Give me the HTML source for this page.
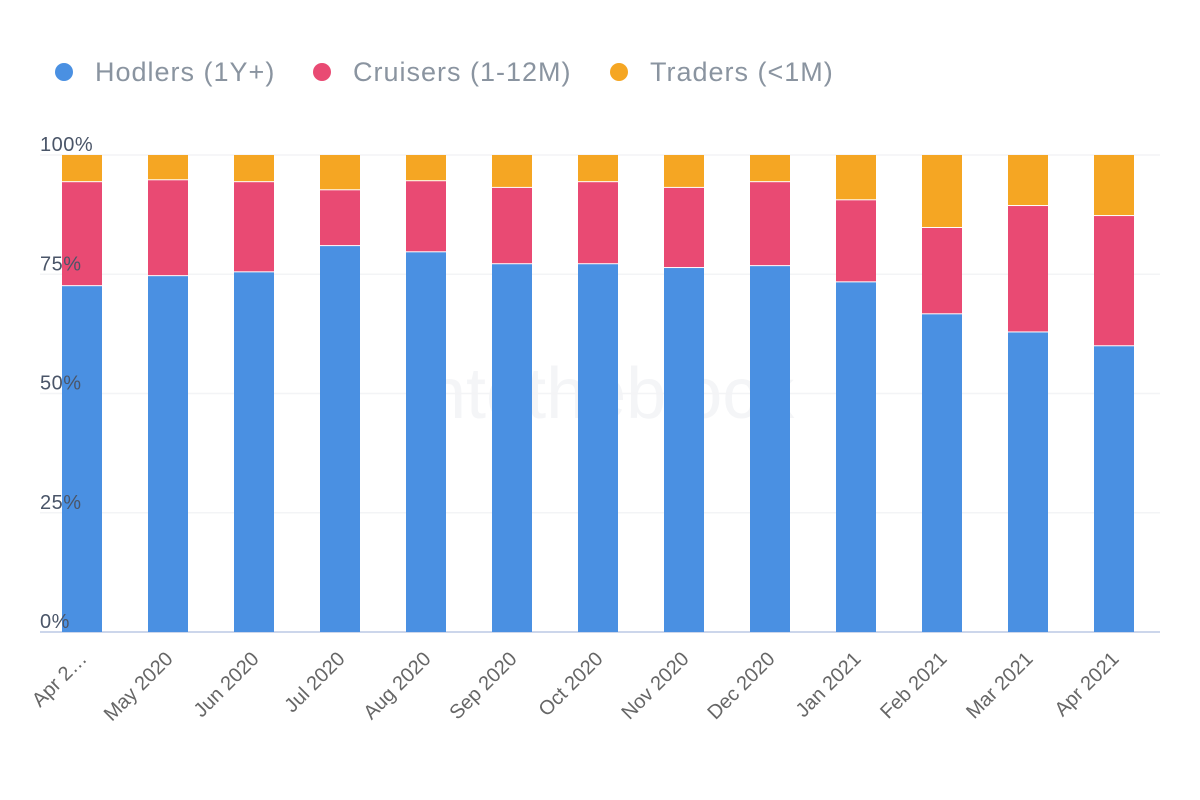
<!DOCTYPE html>
<html><head><meta charset="utf-8"><style>
body{margin:0;background:#fff;}
svg{display:block;font-family:"Liberation Sans",sans-serif;}
</style></head><body>
<svg id="c" width="1200" height="800"></svg>
<script>
const categories=["Apr 2…","May 2020","Jun 2020","Jul 2020","Aug 2020","Sep 2020","Oct 2020","Nov 2020","Dec 2020","Jan 2021","Feb 2021","Mar 2021","Apr 2021"];
const hodlers=[72.5,74.6,75.4,80.9,79.6,77.1,77.1,76.3,76.7,73.3,66.6,62.8,59.9];
const cruisers=[21.8,20.1,18.9,11.7,14.9,16.0,17.2,16.8,17.6,17.2,18.1,26.5,27.3];
const traders=[5.7,5.3,5.7,7.4,5.5,6.9,5.7,6.9,5.7,9.5,15.3,10.7,12.8];
const yTicks=[0,25,50,75,100];
const seriesNames=["Hodlers (1Y+)","Cruisers (1-12M)","Traders (<1M)"];
const colors=["#4a90e2","#e94a73","#f5a623"];

const NS="http://www.w3.org/2000/svg";
const svg=document.getElementById('c');
function el(t,a,p){const e=document.createElementNS(NS,t);for(const k in a)e.setAttribute(k,a[k]);(p||svg).appendChild(e);return e;}
const y0=632,y1=155,x0=40,x1=1160;
const y=v=>y0-(v/100)*(y0-y1);
const step=86,first=82,bw=40;
const xc=i=>first+i*step;

const wm=el('text',{x:410,y:418,'font-size':72,fill:'#f4f5f7'});
wm.textContent='intotheblock';



yTicks.forEach(t=>{
  const g=el('line',{x1:x0,x2:x1,y1:y(t),y2:y(t),stroke:t===0?'#ccd6eb':'#f3f4f6','stroke-width':t===0?2:1.5});
  
  
});

const series=[hodlers,cruisers,traders];
categories.forEach((c,i)=>{
  let base=0;
  series.forEach((s,k)=>{
    const top=base+s[i];
    const r=el('rect',{x:xc(i)-bw/2,y:y(top),width:bw,height:y(base)-y(top)-(k>0?1:0),fill:colors[k]});
    
    
    base=top;
  });
  const t=el('text',{x:0,y:0,'font-size':20,fill:'#666','text-anchor':'end',transform:`translate(${xc(i)+6},${660}) rotate(-45)`});
  t.textContent=c;
  
  
});

yTicks.forEach(t=>{
  const l=el('text',{x:40,y:y(t)-4,'font-size':20,'letter-spacing':0.5,fill:'#4a5568'});
  l.textContent=t+'%';
  
  
});

const lx=[64,322,619];
seriesNames.forEach((n,k)=>{
  const g=el('g',{});
  
  
  el('circle',{cx:lx[k],cy:72,r:9,fill:colors[k]},g);
  const t=el('text',{x:lx[k]+31,y:81,'font-size':27,'letter-spacing':1,fill:'#8a94a0'},g);
  t.textContent=n;
});
</script>
</body></html>
